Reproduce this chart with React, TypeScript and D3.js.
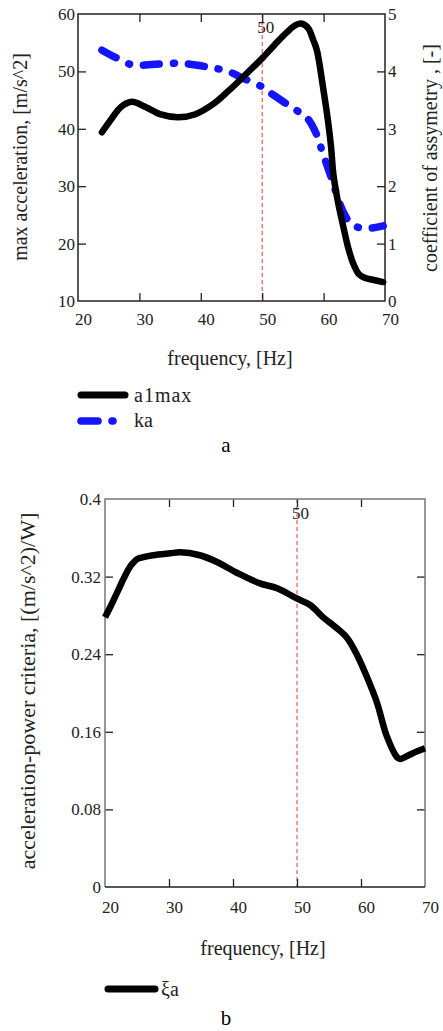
import * as d3 from 'd3';
import React, { useRef, useEffect } from 'react';

// panel a: max acceleration and coefficient of asymmetry vs frequency
const freqA1 = [23.9, 25.5, 27, 28.8, 31, 33.5, 36.3, 39, 42, 44.5, 46.4, 48.3, 50, 52, 54, 55.5, 56.5, 57.5, 58.3, 58.9, 59.9, 60.7, 61.2, 61.6, 62.3, 63.2, 64, 64.8, 65.8, 66.8, 68, 69.7];
const a1max = [39.4, 41.8, 43.8, 44.7, 43.8, 42.5, 42.0, 42.5, 44.3, 46.6, 48.5, 50.5, 52.3, 54.6, 56.8, 58.1, 58.3, 57.5, 55.5, 53.7, 47.3, 41.5, 37, 32, 27.5, 23, 19.3, 16.6, 14.6, 14.0, 13.7, 13.3];

const freqKa = [23.9, 26, 29, 32, 36.6, 41, 44.4, 46.9, 50, 51.8, 55, 57.3, 58.9, 59.7, 60.6, 61.5, 62.3, 63.2, 64.2, 65.4, 67.6, 69.7];
const ka = [4.37, 4.25, 4.11, 4.12, 4.14, 4.08, 4.0, 3.88, 3.73, 3.59, 3.36, 3.19, 2.89, 2.63, 2.35, 2.07, 1.8, 1.55, 1.38, 1.29, 1.27, 1.31];

// panel b: acceleration-power criteria
const freqXi = [20, 21, 22, 23, 24, 25, 26, 27.5, 30.2, 31.7, 34.8, 37.5, 40.6, 44.2, 46.9, 49.8, 52, 54.1, 56, 57.8, 59.4, 60.9, 62.5, 64, 65.6, 66.1, 68.1, 70];
const xiA = [0.278, 0.291, 0.305, 0.319, 0.331, 0.338, 0.340, 0.342, 0.344, 0.345, 0.342, 0.335, 0.324, 0.313, 0.308, 0.298, 0.291, 0.278, 0.268, 0.257, 0.239, 0.217, 0.19, 0.156, 0.134, 0.132, 0.138, 0.143];

const freqTicks = [20, 30, 40, 50, 60, 70];
const accTicks = [10, 20, 30, 40, 50, 60];
const kaTicks = [0, 1, 2, 3, 4, 5];
const xiTicks = [0, 0.08, 0.16, 0.24, 0.32, 0.4];
const markFreq = 50;

const FONT = '"Liberation Serif", "Times New Roman", serif';
const INK = '#222';

function App() {
  const ref = useRef(null);

  useEffect(() => {
    const svg = d3.select(ref.current);
    svg.selectAll('*').remove();

    const styleAxis = (g, size) => {
      g.select('.domain').remove();
      g.selectAll('.tick line').attr('stroke', INK).attr('stroke-width', 1.3);
      g.selectAll('.tick text').attr('font-family', FONT).attr('font-size', size).attr('fill', INK);
    };

    // ---------- panel a ----------
    const L = 78, R = 385, T = 14, B = 301;
    const x = d3.scaleLinear().domain([20, 70]).range([L, R]);
    const y = d3.scaleLinear().domain([10, 60]).range([B, T]);
    const y2 = d3.scaleLinear().domain([0, 5]).range([B, T]);

    const ga = svg.append('g');

    ga.append('line')
      .attr('x1', x(markFreq)).attr('x2', x(markFreq))
      .attr('y1', T).attr('y2', B)
      .attr('stroke', '#ff3030').attr('stroke-width', 1).attr('stroke-dasharray', '4 3');
    ga.append('text')
      .attr('x', x(markFreq) - 5).attr('y', T + 19)
      .attr('font-family', FONT).attr('font-size', 17).attr('fill', INK)
      .text('50');

    const bx = ga.append('g').attr('transform', `translate(0,${B})`)
      .call(d3.axisBottom(x).tickValues(freqTicks).tickSize(-8).tickPadding(12));
    styleAxis(bx, 17);
    bx.selectAll('.tick text').attr('dx', 5);
    bx.selectAll('.tick line').filter(d => d === 20 || d === 70).remove();

    const tx = ga.append('g').attr('transform', `translate(0,${T})`)
      .call(d3.axisTop(x).tickValues(freqTicks).tickSize(-8).tickFormat(() => ''));
    styleAxis(tx, 17);
    tx.selectAll('.tick line').filter(d => d === 20 || d === 70).remove();

    const ly = ga.append('g').attr('transform', `translate(${L},0)`)
      .call(d3.axisLeft(y).tickValues(accTicks).tickSize(-8).tickPadding(3).tickFormat(d3.format('d')));
    styleAxis(ly, 17);
    ly.selectAll('.tick line').filter(d => d === 10 || d === 60).remove();

    const ry = ga.append('g').attr('transform', `translate(${R},0)`)
      .call(d3.axisRight(y2).tickValues(kaTicks).tickSize(-8).tickPadding(3).tickFormat(d3.format('d')));
    styleAxis(ry, 17);
    ry.selectAll('.tick line').filter(d => d === 0 || d === 5).remove();

    ga.append('rect')
      .attr('x', L).attr('y', T).attr('width', R - L).attr('height', B - T)
      .attr('fill', 'none').attr('stroke', INK).attr('stroke-width', 1.5);

    const lineA = d3.line().x(d => x(d[0])).y(d => y(d[1])).curve(d3.curveCatmullRom);
    const lineK = d3.line().x(d => x(d[0])).y(d => y2(d[1])).curve(d3.curveCatmullRom);

    ga.append('path')
      .attr('d', lineK(d3.zip(freqKa, ka)))
      .attr('fill', 'none').attr('stroke', '#1414ff').attr('stroke-width', 7.5)
      .attr('stroke-linecap', 'round').attr('stroke-dasharray', '16 14 1 14');

    ga.append('path')
      .attr('d', lineA(d3.zip(freqA1, a1max)))
      .attr('fill', 'none').attr('stroke', '#000').attr('stroke-width', 6.5)
      .attr('stroke-linejoin', 'round').attr('stroke-linecap', 'round');

    ga.append('text')
      .attr('transform', `translate(20,157) rotate(-90)`)
      .attr('dy', '0.35em').attr('text-anchor', 'middle')
      .attr('font-family', FONT).attr('font-size', 20).attr('fill', INK)
      .text('max acceleration, [m/s^2]');
    ga.append('text')
      .attr('transform', `translate(430,158) rotate(-90)`)
      .attr('dy', '0.35em').attr('text-anchor', 'middle')
      .attr('font-family', FONT).attr('font-size', 20).attr('fill', INK)
      .text('coefficient of assymetry , [-]');
    ga.append('text')
      .attr('x', 230).attr('y', 365).attr('text-anchor', 'middle')
      .attr('font-family', FONT).attr('font-size', 20).attr('fill', INK)
      .text('frequency, [Hz]');

    // legend a
    ga.append('line').attr('x1', 81).attr('x2', 125).attr('y1', 395).attr('y2', 395)
      .attr('stroke', '#000').attr('stroke-width', 7).attr('stroke-linecap', 'round');
    ga.append('text').attr('x', 134).attr('y', 402)
      .attr('font-family', FONT).attr('font-size', 20).attr('fill', INK).attr('letter-spacing', 1)
      .text('a1max');
    ga.append('line').attr('x1', 81).attr('x2', 98).attr('y1', 421).attr('y2', 421)
      .attr('stroke', '#1414ff').attr('stroke-width', 7.5).attr('stroke-linecap', 'round');
    ga.append('line').attr('x1', 112).attr('x2', 113).attr('y1', 421).attr('y2', 421)
      .attr('stroke', '#1414ff').attr('stroke-width', 7.5).attr('stroke-linecap', 'round');
    ga.append('text').attr('x', 134).attr('y', 427)
      .attr('font-family', FONT).attr('font-size', 20).attr('fill', INK)
      .text('ka');
    ga.append('text').attr('x', 226).attr('y', 452).attr('text-anchor', 'middle')
      .attr('font-family', FONT).attr('font-size', 21).attr('fill', '#000')
      .text('a');

    // ---------- panel b ----------
    const L2 = 105, R2 = 425, T2 = 499, B2 = 887;
    const xb = d3.scaleLinear().domain([20, 70]).range([L2, R2]);
    const yb = d3.scaleLinear().domain([0, 0.4]).range([B2, T2]);
    const gb = svg.append('g');

    gb.append('line')
      .attr('x1', xb(markFreq)).attr('x2', xb(markFreq))
      .attr('y1', T2).attr('y2', B2)
      .attr('stroke', '#ff3030').attr('stroke-width', 1).attr('stroke-dasharray', '4 3');
    gb.append('text')
      .attr('x', xb(markFreq) - 5).attr('y', T2 + 20)
      .attr('font-family', FONT).attr('font-size', 17).attr('fill', INK)
      .text('50');

    const fmt = d => (d === 0 ? '0' : String(+d.toFixed(2)));

    const bx2 = gb.append('g').attr('transform', `translate(0,${B2})`)
      .call(d3.axisBottom(xb).tickValues(freqTicks).tickSize(-8).tickPadding(14));
    styleAxis(bx2, 17);
    bx2.selectAll('.tick text').attr('dx', 5);
    bx2.selectAll('.tick line').filter(d => d === 20 || d === 70).remove();

    const tx2 = gb.append('g').attr('transform', `translate(0,${T2})`)
      .call(d3.axisTop(xb).tickValues(freqTicks).tickSize(-8).tickFormat(() => ''));
    styleAxis(tx2, 17);
    tx2.selectAll('.tick line').filter(d => d === 20 || d === 70).remove();

    const ly2 = gb.append('g').attr('transform', `translate(${L2},0)`)
      .call(d3.axisLeft(yb).tickValues(xiTicks).tickSize(-8).tickPadding(4).tickFormat(fmt));
    styleAxis(ly2, 17);
    ly2.selectAll('.tick line').filter(d => d === 0 || d === 0.4).remove();

    const ry2 = gb.append('g').attr('transform', `translate(${R2},0)`)
      .call(d3.axisRight(yb).tickValues(xiTicks).tickSize(-8).tickFormat(() => ''));
    styleAxis(ry2, 17);
    ry2.selectAll('.tick line').filter(d => d === 0 || d === 0.4).remove();

    gb.append('path')
      .attr('d', `M${L2},${B2}V${T2}H${R2}V${B2}`)
      .attr('fill', 'none').attr('stroke', '#777').attr('stroke-width', 1.5);
    gb.append('line').attr('x1', L2).attr('x2', R2).attr('y1', B2).attr('y2', B2)
      .attr('stroke', INK).attr('stroke-width', 1.5);

    const lineXi = d3.line().x(d => xb(d[0])).y(d => yb(d[1])).curve(d3.curveCatmullRom);
    gb.append('path')
      .attr('d', lineXi(d3.zip(freqXi, xiA)))
      .attr('fill', 'none').attr('stroke', '#000').attr('stroke-width', 6.5)
      .attr('stroke-linejoin', 'round');

    gb.append('text')
      .attr('transform', `translate(27,691) rotate(-90)`)
      .attr('dy', '0.35em').attr('text-anchor', 'middle')
      .attr('font-family', FONT).attr('font-size', 22).attr('fill', INK)
      .text('acceleration-power criteria, [(m/s^2)/W]');
    gb.append('text')
      .attr('x', 263).attr('y', 955).attr('text-anchor', 'middle')
      .attr('font-family', FONT).attr('font-size', 20).attr('fill', INK)
      .text('frequency, [Hz]');

    gb.append('line').attr('x1', 108).attr('x2', 155).attr('y1', 989).attr('y2', 989)
      .attr('stroke', '#000').attr('stroke-width', 7).attr('stroke-linecap', 'round');
    gb.append('text').attr('x', 161).attr('y', 996)
      .attr('font-family', FONT).attr('font-size', 20).attr('fill', INK)
      .text('ξa');
    gb.append('text').attr('x', 226).attr('y', 1025).attr('text-anchor', 'middle')
      .attr('font-family', FONT).attr('font-size', 21).attr('fill', '#000')
      .text('b');
  }, []);

  return (
    <div className="chart">
      <svg ref={ref} width={443} height={1031}
        style={{ position: 'absolute', left: 0, top: 0, background: '#fff' }} />
    </div>
  );
}

export default App;
